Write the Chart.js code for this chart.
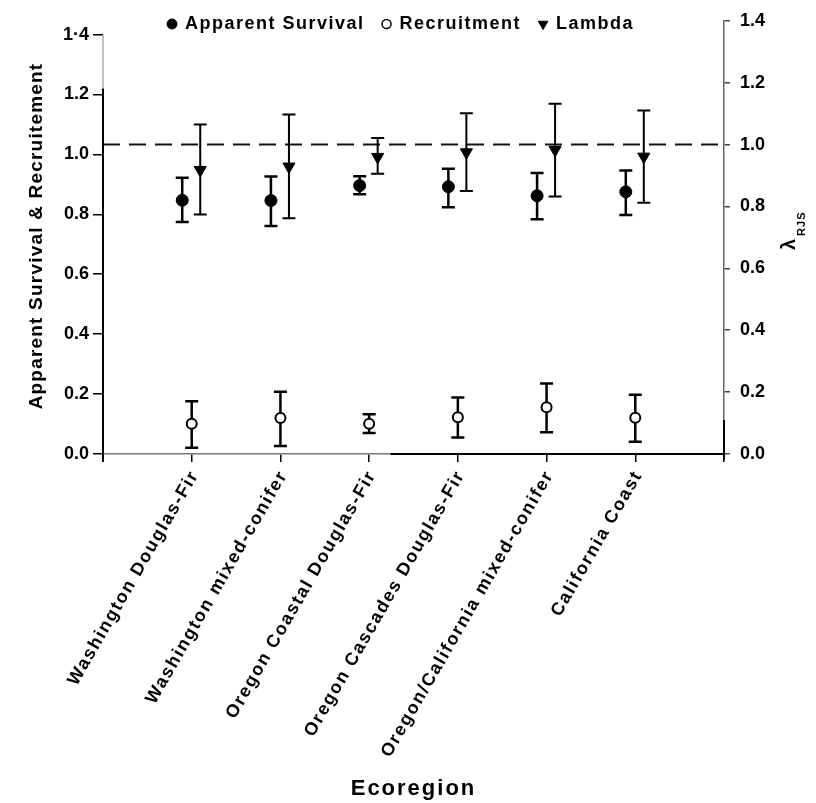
<!DOCTYPE html>
<html>
<head>
<meta charset="utf-8">
<script src="https://cdn.jsdelivr.net/npm/chart.js"></script>
<style>
  html, body { margin: 0; padding: 0; background: #fff; }
  #wrap { width: 816px; height: 803px; }
</style>
</head>
<body>
<div id="wrap"><canvas id="chart"></canvas></div>
<script>
// Ecoregions along the x axis
const ecoregions = [
  'Washington Douglas-Fir',
  'Washington mixed-conifer',
  'Oregon Coastal Douglas-Fir',
  'Oregon Cascades Douglas-Fir',
  'Oregon/California mixed-conifer',
  'California Coast'
];

// Apparent survival (left axis) and its error bar ends
const survival     = [0.847, 0.846, 0.896, 0.892, 0.862, 0.875];
const survivalLow  = [0.774, 0.761, 0.867, 0.824, 0.784, 0.798];
const survivalHigh = [0.922, 0.926, 0.927, 0.952, 0.938, 0.946];

// Recruitment (left axis)
const recruitment     = [0.101, 0.120, 0.101, 0.123, 0.156, 0.121];
const recruitmentLow  = [0.021, 0.027, 0.070, 0.055, 0.073, 0.041];
const recruitmentHigh = [0.176, 0.208, 0.133, 0.189, 0.235, 0.198];

// Lambda RJS (right axis)
const lambda     = [0.918, 0.929, 0.960, 0.975, 0.983, 0.961];
const lambdaLow  = [0.774, 0.762, 0.906, 0.850, 0.832, 0.812];
const lambdaHigh = [1.065, 1.097, 1.021, 1.101, 1.132, 1.110];

const lambdaReference = 1.0;

const leftTickLabels  = ['0.0', '0.2', '0.4', '0.6', '0.8', '1.0', '1.2', '1·4'];
const rightTickLabels = ['0.0', '0.2', '0.4', '0.6', '0.8', '1.0', '1.2', '1.4'];

// small sideways shift so the three series don't sit on top of each other
const dodge = { survival: -0.107, recruitment: 0, lambda: 0.096 };

const FONT = "'Liberation Sans', Arial, sans-serif";
const leftMax = 1.446;

function points(values, shift) {
  return values.map((v, i) => ({ x: i + 1 + shift, y: v }));
}

function line(ctx, x1, y1, x2, y2, color, width) {
  ctx.strokeStyle = color;
  ctx.lineWidth = width;
  ctx.beginPath();
  ctx.moveTo(x1, y1);
  ctx.lineTo(x2, y2);
  ctx.stroke();
}

// axis lines (the scanned original has uneven strokes), dashed lambda = 1 line, error bars
const errorBarPlugin = {
  id: 'errorBars',
  beforeDatasetsDraw(chart) {
    const ctx = chart.ctx;
    const area = chart.chartArea;
    const y = chart.scales.y;
    const y2 = chart.scales.y2;
    const x = chart.scales.x;
    ctx.save();

    // left axis: faint at the very top, solid below
    line(ctx, area.left, y.getPixelForValue(1.4), area.left, y.getPixelForValue(1.22), '#888', 1);
    line(ctx, area.left, y.getPixelForValue(1.22), area.left, area.bottom + 8, '#000', 2);
    // right axis darker near the bottom
    line(ctx, area.right, y2.getPixelForValue(0.11), area.right, area.bottom + 6, '#000', 2);
    // x axis darker on its right half
    line(ctx, x.getPixelForValue(3.24), area.bottom, area.right, area.bottom, '#000', 2);

    const yRef = y2.getPixelForValue(lambdaReference);
    ctx.setLineDash([17, 9]);
    line(ctx, area.left, yRef, area.right, yRef, '#111', 2);
    ctx.setLineDash([]);

    chart.data.datasets.forEach((ds, di) => {
      const meta = chart.getDatasetMeta(di);
      const ys = chart.scales[ds.yAxisID];
      ctx.strokeStyle = '#000';
      ctx.lineWidth = ds.errWidth;
      meta.data.forEach((pt, i) => {
        const px = pt.x;
        const lo = ys.getPixelForValue(ds.errLow[i]);
        const hi = ys.getPixelForValue(ds.errHigh[i]);
        const half = ds.capWidth / 2;
        ctx.beginPath();
        ctx.moveTo(px, lo); ctx.lineTo(px, hi);
        ctx.moveTo(px - half, lo); ctx.lineTo(px + half, lo);
        ctx.moveTo(px - half, hi); ctx.lineTo(px + half, hi);
        ctx.stroke();
      });
    });
    ctx.restore();
  }
};

// category labels, axis titles and the legend row
const textPlugin = {
  id: 'texts',
  afterDraw(chart) {
    const ctx = chart.ctx;
    const area = chart.chartArea;
    const xs = chart.scales.x;
    ctx.save();
    ctx.fillStyle = '#000';

    // rotated category labels
    ctx.font = 'bold 18px ' + FONT;
    ctx.letterSpacing = '1.7px';
    ctx.textAlign = 'right';
    ctx.textBaseline = 'middle';
    ecoregions.forEach((name, i) => {
      const px = xs.getPixelForValue(i + 1);
      ctx.save();
      ctx.translate(px + 3, area.bottom + 18);
      ctx.rotate(-Math.PI / 3);
      ctx.fillText(name, 0, 0);
      ctx.restore();
    });

    // x title
    ctx.font = 'bold 22px ' + FONT;
    ctx.letterSpacing = '2px';
    ctx.textAlign = 'center';
    ctx.fillText('Ecoregion', (area.left + area.right) / 2, 789);

    // left title
    ctx.font = 'bold 19px ' + FONT;
    ctx.letterSpacing = '1.2px';
    ctx.save();
    ctx.translate(37, 236);
    ctx.rotate(-Math.PI / 2);
    ctx.fillText('Apparent Survival & Recruitement', 0, 0);
    ctx.restore();

    // right title: lambda with RJS subscript
    ctx.save();
    ctx.translate(795, 250);
    ctx.rotate(-Math.PI / 2);
    ctx.textAlign = 'left';
    ctx.textBaseline = 'alphabetic';
    ctx.letterSpacing = '0px';
    ctx.font = 'bold 20px ' + FONT;
    ctx.fillText('λ', 0, 0);
    const lw = ctx.measureText('λ').width;
    ctx.font = 'bold 11px ' + FONT;
    ctx.letterSpacing = '1px';
    ctx.fillText('RJS', lw + 3, 10);
    ctx.restore();

    // legend
    ctx.font = 'bold 18px ' + FONT;
    ctx.letterSpacing = '1.5px';
    ctx.textAlign = 'left';
    ctx.textBaseline = 'middle';
    const ly = 24;
    let lx = 172;
    chart.data.datasets.forEach((ds) => {
      ctx.fillStyle = ds.backgroundColor;
      ctx.strokeStyle = ds.borderColor;
      ctx.lineWidth = ds.legendBorder;
      Chart.helpers.drawPoint(ctx, {
        pointStyle: ds.pointStyle,
        rotation: ds.rotation || 0,
        radius: ds.legendRadius,
        borderWidth: ds.legendBorder
      }, lx, ly);
      ctx.fillStyle = '#000';
      ctx.fillText(ds.label, lx + 13, ly);
      lx += 13 + ctx.measureText(ds.label).width + 22;
    });
    ctx.restore();
  }
};

new Chart(document.getElementById('chart'), {
  type: 'scatter',
  data: {
    datasets: [
      {
        label: 'Apparent Survival',
        data: points(survival, dodge.survival),
        yAxisID: 'y',
        pointStyle: 'circle',
        pointRadius: 6,
        backgroundColor: '#000',
        borderColor: '#000',
        borderWidth: 1,
        errLow: survivalLow, errHigh: survivalHigh,
        errWidth: 2.5, capWidth: 13,
        legendRadius: 5, legendBorder: 1
      },
      {
        label: 'Recruitment',
        data: points(recruitment, dodge.recruitment),
        yAxisID: 'y',
        pointStyle: 'circle',
        pointRadius: 5,
        backgroundColor: '#fff',
        borderColor: '#000',
        borderWidth: 2,
        errLow: recruitmentLow, errHigh: recruitmentHigh,
        errWidth: 2.5, capWidth: 13,
        legendRadius: 4.5, legendBorder: 1.5
      },
      {
        label: 'Lambda',
        data: points(lambda, dodge.lambda),
        yAxisID: 'y2',
        pointStyle: 'triangle',
        rotation: 180,
        pointRotation: 180,
        pointRadius: 7,
        backgroundColor: '#000',
        borderColor: '#000',
        borderWidth: 1,
        errLow: lambdaLow, errHigh: lambdaHigh,
        errWidth: 2, capWidth: 13,
        legendRadius: 5.5, legendBorder: 1
      }
    ]
  },
  options: {
    responsive: true,
    maintainAspectRatio: false,
    animation: false,
    layout: { padding: { top: 15, left: 0, right: 0, bottom: 0 } },
    plugins: {
      legend: { display: false },
      tooltip: { enabled: false }
    },
    scales: {
      x: {
        type: 'linear',
        min: 0,
        max: ecoregions.length + 1,
        ticks: { stepSize: 1, display: false },
        grid: { drawOnChartArea: false, drawTicks: true, tickLength: 8, color: '#000', lineWidth: 1.5 },
        border: { color: '#777', width: 1.5 },
        afterFit(scale) { scale.height = 349; }
      },
      y: {
        position: 'left',
        min: 0,
        max: leftMax,
        ticks: {
          stepSize: 0.2,
          includeBounds: false,
          padding: 4,
          color: '#000',
          font: { family: FONT, size: 18, weight: 'bold' },
          callback: (v) => leftTickLabels[Math.round(v / 0.2)]
        },
        grid: { drawOnChartArea: false, drawTicks: true, tickLength: 10, color: '#000', lineWidth: 1.5 },
        border: { display: false },
        afterFit(scale) { scale.width = 103; }
      },
      y2: {
        position: 'right',
        min: 0,
        max: 1.4,
        ticks: {
          stepSize: 0.2,
          padding: 10,
          color: '#000',
          font: { family: FONT, size: 18, weight: 'bold' },
          callback: (v) => rightTickLabels[Math.round(v / 0.2)]
        },
        grid: { drawOnChartArea: false, drawTicks: true, tickLength: 6, color: '#444', lineWidth: 1.5 },
        border: { color: '#666', width: 1.5 },
        afterFit(scale) { scale.width = 92; }
      }
    }
  },
  plugins: [errorBarPlugin, textPlugin]
});
</script>
</body>
</html>
